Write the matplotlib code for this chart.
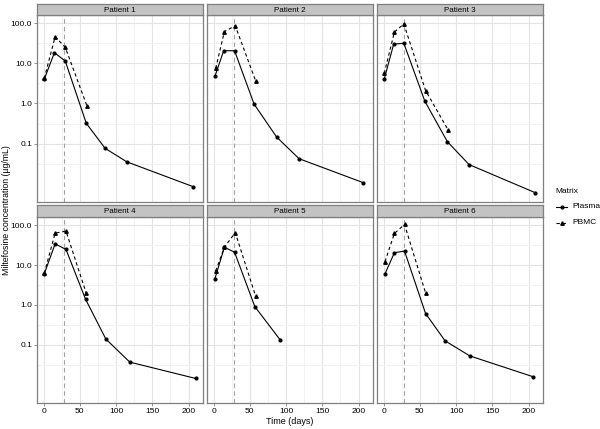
import matplotlib
matplotlib.use("Agg")
import matplotlib.pyplot as plt
import numpy as np

plt.rcParams['font.family'] = ['Liberation Sans', 'DejaVu Sans']

patients = ["Patient 1", "Patient 2", "Patient 3", "Patient 4", "Patient 5", "Patient 6"]

plasma_days = [
    [1, 15, 30, 59, 85, 115, 206],
    [2, 14, 29, 56, 87, 118, 206],
    [1, 14, 28, 57, 88, 118, 209],
    [1, 16, 31, 58, 86, 119, 210],
    [2, 15, 29, 57, 92],
    [2, 15, 29, 58, 85, 119, 206],
]
plasma_conc = [
    [4.0, 18.4, 11.4, 0.32, 0.076, 0.035, 0.0085],
    [4.8, 20.6, 20.6, 0.96, 0.146, 0.042, 0.0107],
    [4.05, 30.0, 31.6, 1.14, 0.112, 0.030, 0.006],
    [6.0, 34.0, 24.6, 1.39, 0.14, 0.037, 0.0144],
    [4.6, 28.0, 21.0, 0.91, 0.133],
    [6.0, 20.4, 22.4, 0.61, 0.126, 0.053, 0.016],
]
pbmc_days = [
    [1, 16, 30, 60],
    [3, 15, 30, 58],
    [1, 15, 28, 58, 89],
    [1, 16, 31, 59],
    [3, 15, 30, 58],
    [2, 15, 29, 58],
]
pbmc_conc = [
    [4.2, 46.0, 25.0, 0.86],
    [7.5, 62.0, 86.0, 3.7],
    [5.6, 60.0, 96.0, 2.1, 0.22],
    [6.2, 63.0, 71.0, 1.95],
    [7.1, 28.0, 65.0, 1.68],
    [12.2, 62.0, 104.0, 2.0],
]
dose_end_day = 28
x_ticks = [0, 50, 100, 150, 200]
y_ticks = [0.1, 1, 10, 100]
y_tick_labels = ["0.1", "1.0", "10.0", "100.0"]

W, H = 600, 429
fig = plt.figure(figsize=(W / 100, H / 100), dpi=100)

col_left = [37, 207, 377]
pw = 166
rows = [(15, 202, 4), (217, 403, 205)]  # plot top, plot bottom, strip top

border_col = "#7f7f7f"
for i, name in enumerate(patients):
    r, c = divmod(i, 3)
    top, bot, stop = rows[r]
    left = col_left[c]
    ax = fig.add_axes([left / W, 1 - bot / H, pw / W, (bot - top) / H])
    ax.set_yscale("log")
    ax.set_xlim(-9, 220)
    ax.set_ylim(0.0035, 160)
    # grid
    for xv in [0, 50, 100, 150, 200]:
        ax.axvline(xv, color="#e3e3e3", lw=0.8, zorder=0)
    for xv in [25, 75, 125, 175]:
        ax.axvline(xv, color="#f0f0f0", lw=0.6, zorder=0)
    for yv in y_ticks:
        ax.axhline(yv, color="#e3e3e3", lw=0.8, zorder=0)
    for yv in [10 ** -1.5, 10 ** -0.5, 10 ** 0.5, 10 ** 1.5]:
        ax.axhline(yv, color="#f0f0f0", lw=0.6, zorder=0)
    ax.axvline(dose_end_day, color="#a0a0a0", lw=0.8, ls=(0, (4, 3)), zorder=1)
    ax.plot(plasma_days[i], plasma_conc[i], color="black", lw=0.8, marker="o",
            ms=2.0, zorder=3)
    ax.plot(pbmc_days[i], pbmc_conc[i], color="black", lw=0.8, ls=(0, (3, 2.5)),
            marker="^", ms=2.5, zorder=3)
    ax.minorticks_off()
    ax.set_xticks(x_ticks)
    ax.set_yticks(y_ticks)
    ax.tick_params(length=2, width=0.6, color=border_col, labelsize=6, pad=1.5,
                   labelcolor="black")
    if c == 0:
        ax.set_yticklabels(y_tick_labels)
    else:
        ax.set_yticklabels([])
        ax.tick_params(axis="y", length=0)
    if r == 1:
        ax.set_xticklabels([str(v) for v in x_ticks])
    else:
        ax.set_xticklabels([])
        ax.tick_params(axis="x", length=0)
    for s in ax.spines.values():
        s.set_color(border_col)
        s.set_linewidth(0.9)
    # strip
    sax = fig.add_axes([left / W, 1 - top / H, pw / W, (top - stop) / H])
    sax.set_facecolor("#c3c3c3")
    sax.set_xticks([])
    sax.set_yticks([])
    for s in sax.spines.values():
        s.set_color(border_col)
        s.set_linewidth(0.9)
    sax.text(0.5, 0.45, name, ha="center", va="center", fontsize=5.8,
             transform=sax.transAxes)

fig.text(290 / W, 1 - 421 / H, "Time (days)", ha="center", va="center", fontsize=6.5)
fig.text(6.5 / W, 1 - 210 / H, "Miltefosine concentration (µg/mL)", ha="center",
         va="center", rotation=90, fontsize=6.3)

# legend
lax = fig.add_axes([550 / W, 1 - 235 / H, 50 / W, 50 / H])
lax.axis("off")
lax.set_xlim(0, 50)
lax.set_ylim(50, 0)
lax.text(5, 7, "Matrix", fontsize=6, va="center", ha="left")
lax.plot([6, 17], [21.5, 21.5], color="black", lw=0.8, marker=None)
lax.plot([11.5], [21.5], color="black", marker="o", ms=2.0)
lax.text(22, 21.5, "Plasma", fontsize=6, va="center", ha="left")
lax.plot([6, 17], [37.5, 37.5], color="black", lw=0.8, ls=(0, (3, 2.5)))
lax.plot([11.5], [37.5], color="black", marker="^", ms=2.5)
lax.text(22, 37.5, "PBMC", fontsize=6, va="center", ha="left")

fig.savefig("out.png", dpi=100)
